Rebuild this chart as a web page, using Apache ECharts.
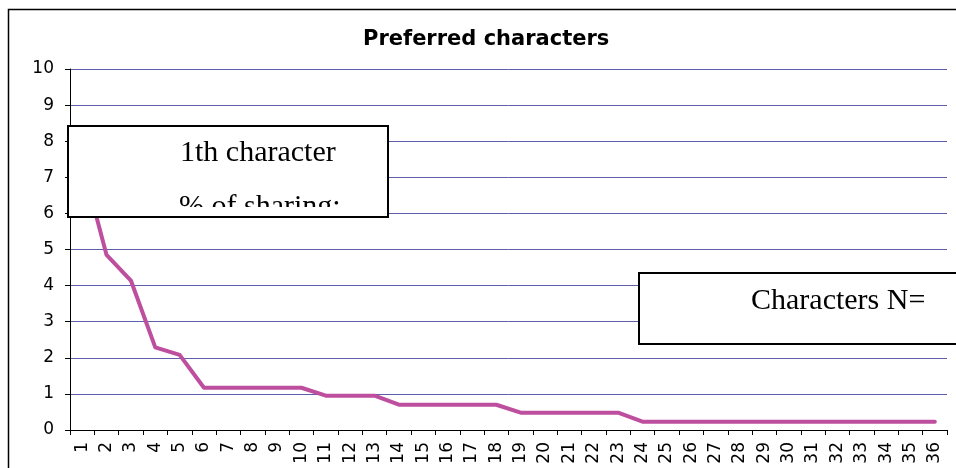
<!DOCTYPE html>
<html>
<head>
<meta charset="utf-8">
<script src="https://cdn.jsdelivr.net/npm/echarts@6/dist/echarts.min.js"></script>
<style>
  html, body { margin: 0; padding: 0; background: #fff; }
  #chart { width: 956px; height: 468px; }
</style>
</head>
<body>
<div id="chart"></div>
<script>
// Share of each preferred character, ranked
const categories = ['1','2','3','4','5','6','7','8','9','10','11','12','13','14','15','16','17','18',
                    '19','20','21','22','23','24','25','26','27','28','29','30','31','32','33','34','35','36'];
const shares = [7.4, 4.85, 4.14, 2.29, 2.08,
                1.17, 1.17, 1.17, 1.17, 1.17,
                0.95, 0.95, 0.95,
                0.70, 0.70, 0.70, 0.70, 0.70,
                0.48, 0.48, 0.48, 0.48, 0.48,
                0.23, 0.23, 0.23, 0.23, 0.23, 0.23, 0.23, 0.23, 0.23, 0.23, 0.23, 0.23, 0.23];
const yTicks = [0, 1, 2, 3, 4, 5, 6, 7, 8, 9, 10];

const chartTitle = 'Preferred characters';
const noteLines = ['1th character', '% of sharing:'];
const countNote = 'Characters N=';

const chart = echarts.init(document.getElementById('chart'), null, { renderer: 'canvas' });

const serif = '"Liberation Serif", "Times New Roman", serif';
const sans = '"DejaVu Sans", sans-serif';

chart.setOption({
  animation: false,
  backgroundColor: '#fff',
  grid: { left: 70, right: 9, top: 69, bottom: 38, containLabel: false },
  xAxis: {
    type: 'category',
    data: categories,
    boundaryGap: true,
    axisLine: { lineStyle: { color: '#000', width: 1 } },
    axisTick: { show: true, length: 5, lineStyle: { color: '#000' } },
    axisLabel: { rotate: 90, margin: 12, color: '#000', fontFamily: sans, fontSize: 17, interval: 0 },
    splitLine: { show: false }
  },
  yAxis: {
    type: 'value',
    min: yTicks[0],
    max: yTicks[yTicks.length - 1],
    interval: 1,
    axisLine: { show: true, lineStyle: { color: '#000', width: 1 } },
    axisTick: { show: true, length: 5, lineStyle: { color: '#000' } },
    axisLabel: { margin: 16, color: '#000', fontFamily: sans, fontSize: 17 },
    splitLine: { show: true, lineStyle: { color: '#5e5eaa', width: 1 } }
  },
  series: [{
    type: 'line',
    data: shares,
    showSymbol: false,
    symbol: 'none',
    lineStyle: { color: '#bd4f9e', width: 4, join: 'round', cap: 'round' },
    z: 3
  }],
  graphic: [
    // outer chart frame
    { type: 'rect', z: 50, silent: true,
      shape: { x: 8.5, y: 9.5, width: 1000, height: 500 },
      style: { fill: null, stroke: '#000', lineWidth: 1.5 } },
    // title
    { type: 'text', z: 60, silent: true,
      style: { text: chartTitle, x: 363, y: 40, verticalAlign: 'middle', textAlign: 'left',
               font: 'bold 21px ' + sans, fill: '#000' } },
    // left note box: fill, text, lower edge mask, border
    { type: 'rect', z: 100, silent: true,
      shape: { x: 68, y: 126, width: 320, height: 91 },
      style: { fill: '#fff', stroke: null } },
    { type: 'text', z: 101, silent: true,
      style: { text: noteLines[0], x: 180, y: 153, verticalAlign: 'middle', textAlign: 'left',
               font: '30px ' + serif, fill: '#000' } },
    { type: 'text', z: 101, silent: true,
      style: { text: noteLines[1], x: 179, y: 207, verticalAlign: 'middle', textAlign: 'left',
               font: '30px ' + serif, fill: '#000' } },
    { type: 'rect', z: 102, silent: true,
      shape: { x: 170, y: 207, width: 190, height: 22 },
      style: { fill: '#fff', stroke: null } },
    { type: 'rect', z: 103, silent: true,
      shape: { x: 68, y: 126, width: 320, height: 91 },
      style: { fill: null, stroke: '#000', lineWidth: 2 } },
    // right note box
    { type: 'rect', z: 100, silent: true,
      shape: { x: 639, y: 273, width: 400, height: 71 },
      style: { fill: '#fff', stroke: '#000', lineWidth: 2 } },
    { type: 'text', z: 101, silent: true,
      style: { text: countNote, x: 751, y: 301, verticalAlign: 'middle', textAlign: 'left',
               font: '30px ' + serif, fill: '#000' } }
  ]
});
</script>
</body>
</html>
